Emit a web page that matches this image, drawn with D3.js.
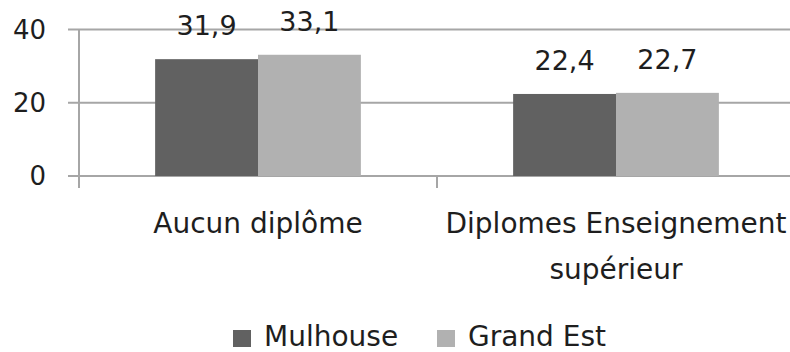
<!DOCTYPE html>
<html>
<head>
<meta charset="utf-8">
<script src="https://cdn.jsdelivr.net/npm/d3@7"></script>
<style>
  body { margin: 0; background: #fff; }
  text { font-family: "DejaVu Sans", sans-serif; fill: #1e1e1e; }
</style>
</head>
<body>
<script>
var categories = [["Aucun diplôme"], ["Diplomes Enseignement", "supérieur"]];
var series = ["Mulhouse", "Grand Est"];
var mulhouse = [31.9, 22.4];
var grandEst = [33.1, 22.7];
var yTicks = [0, 20, 40];
var colors = ["#616161", "#b1b1b1"];

var width = 790, height = 352;

var svg = d3.select("body").append("svg")
    .attr("width", width)
    .attr("height", height);

var x0 = d3.scaleBand()
    .domain(d3.range(categories.length))
    .range([79, 795]);

var x1 = d3.scaleBand()
    .domain(series)
    .range([0, x0.bandwidth()])
    .paddingOuter(0.74);

var y = d3.scaleLinear()
    .domain([0, 40])
    .range([176, 29.5]);

// gridlines + y labels
svg.selectAll(".grid")
    .data(yTicks)
  .enter().append("line")
    .attr("class", "grid")
    .attr("x1", 68).attr("x2", width)
    .attr("y1", function(d){ return y(d); })
    .attr("y2", function(d){ return y(d); })
    .attr("stroke", "#a6a6a6")
    .attr("stroke-width", 2);

svg.selectAll(".ylab")
    .data(yTicks)
  .enter().append("text")
    .attr("class", "ylab")
    .attr("x", 46)
    .attr("y", function(d){ return y(d); })
    .attr("dy", "0.36em")
    .attr("text-anchor", "end")
    .style("font-size", "26px")
    .text(function(d){ return d; });

// vertical axis and category ticks
svg.append("line")
    .attr("x1", 79).attr("x2", 79)
    .attr("y1", y(40)).attr("y2", 188)
    .attr("stroke", "#a6a6a6")
    .attr("stroke-width", 2);

svg.selectAll(".ctick")
    .data(d3.range(1, categories.length))
  .enter().append("line")
    .attr("class", "ctick")
    .attr("x1", function(d){ return x0(d); })
    .attr("x2", function(d){ return x0(d); })
    .attr("y1", y(0)).attr("y2", 188)
    .attr("stroke", "#a6a6a6")
    .attr("stroke-width", 2);

var values = [mulhouse, grandEst];

var groups = svg.selectAll(".grp")
    .data(categories.map(function(c, i){ return i; }))
  .enter().append("g")
    .attr("class", "grp")
    .attr("transform", function(i){ return "translate(" + x0(i) + ",0)"; });

groups.selectAll("rect")
    .data(function(i){ return series.map(function(s, k){ return {s: s, k: k, v: values[k][i]}; }); })
  .enter().append("rect")
    .attr("x", function(d){ return x1(d.s); })
    .attr("width", x1.bandwidth())
    .attr("y", function(d){ return y(d.v); })
    .attr("height", function(d){ return y(0) - y(d.v); })
    .attr("fill", function(d){ return colors[d.k]; });

groups.selectAll(".vlab")
    .data(function(i){ return series.map(function(s, k){ return {s: s, k: k, v: values[k][i]}; }); })
  .enter().append("text")
    .attr("class", "vlab")
    .attr("x", function(d){ return x1(d.s) + x1.bandwidth() / 2; })
    .attr("y", function(d){ return y(d.v) - 24; })
    .attr("text-anchor", "middle")
    .style("font-size", "27px")
    .text(function(d){ return String(d.v).replace(".", ","); });

// category labels
var clab = svg.selectAll(".clab")
    .data(categories)
  .enter().append("text")
    .attr("class", "clab")
    .attr("text-anchor", "middle")
    .attr("transform", function(d, i){ return "translate(" + (x0(i) + x0.bandwidth() / 2) + ",233)"; })
    .style("font-size", "28px");

clab.selectAll("tspan")
    .data(function(d){ return d; })
  .enter().append("tspan")
    .attr("x", 0)
    .attr("y", function(d, j){ return j * 46; })
    .text(function(d){ return d; });

// legend
var legX = [233, 437];
var leg = svg.selectAll(".leg")
    .data(series)
  .enter().append("g")
    .attr("class", "leg")
    .attr("transform", function(d, i){ return "translate(" + legX[i] + ",0)"; });

leg.append("rect")
    .attr("x", 0).attr("y", 330)
    .attr("width", 18).attr("height", 17)
    .attr("fill", function(d, i){ return colors[i]; });

leg.append("text")
    .attr("x", 31).attr("y", 346)
    .style("font-size", "28px")
    .text(function(d){ return d; });
</script>
</body>
</html>
